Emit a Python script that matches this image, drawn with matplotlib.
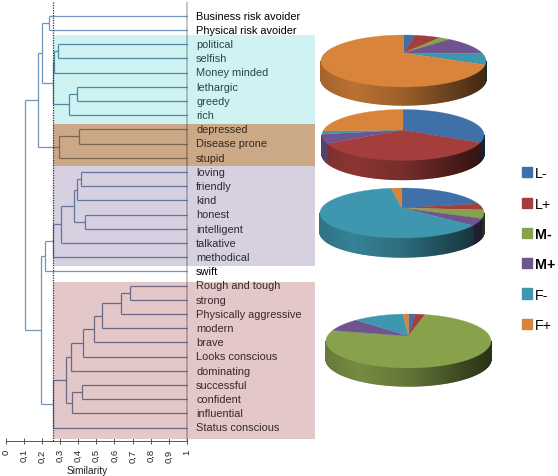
"""Similarity dendrogram of trait words with 3D style pie charts per cluster."""

import matplotlib
matplotlib.use("Agg")
import matplotlib.pyplot as plt
import numpy as np
from matplotlib.collections import LineCollection, PolyCollection
from matplotlib.colors import to_rgb
from matplotlib.patches import Patch, Rectangle


WIDTH, HEIGHT = 558, 477

LEAVES = [
    "Business risk avoider", "Physical risk avoider", "political", "selfish",
    "Money minded", "lethargic", "greedy", "rich", "depressed",
    "Disease prone", "stupid", "loving", "friendly", "kind", "honest",
    "intelligent", "talkative", "methodical", "swift", "Rough and tough",
    "strong", "Physically aggressive", "modern", "brave", "Looks conscious",
    "dominating", "successful", "confident", "influential", "Status conscious",
]

# merges, new node ids count up from len(LEAVES)
MERGE_A = [0, 2, 31, 5, 33, 32, 30, 8, 37, 36, 11, 40, 14, 41, 43, 44, 45,
           19, 47, 48, 49, 50, 51, 26, 53, 52, 55, 46, 39]
MERGE_B = [1, 3, 4, 6, 7, 34, 35, 9, 10, 38, 12, 13, 15, 42, 16, 17, 18,
           20, 21, 22, 23, 24, 25, 27, 28, 54, 29, 56, 57]
MERGE_SIM = [0.24, 0.29, 0.264, 0.395, 0.347, 0.26, 0.2, 0.406, 0.296, 0.18,
             0.417, 0.395, 0.437, 0.377, 0.307, 0.263, 0.218,
             0.687, 0.634, 0.53, 0.489, 0.428, 0.36, 0.42, 0.366, 0.334,
             0.263, 0.195, 0.106]
CUT = 0.262

SIM_TICKS = [0, 0.1, 0.2, 0.3, 0.4, 0.5, 0.6, 0.7, 0.8, 0.9, 1]
SIM_LABELS = ["0", "0,1", "0,2", "0,3", "0,4", "0,5", "0,6", "0,7", "0,8", "0,9", "1"]

# band top, band bottom in leaf rows
BAND_TOP = [1.36, 7.66, 10.58, 18.75]
BAND_BOTTOM = [7.66, 10.58, 17.65, 29.8]
BAND_FILL = ["#cff3f3", "#cba886", "#d6d0e0", "#e3c7c9"]
BAND_LINE = ["#4f8aa2", "#7d6650", "#64769e", "#6b6a86"]
BAND_TEXT = ["#2c4348", "#35291f", "#2a2a38", "#38292d"]

GROUPS = ["L-", "L+", "M-", "M+", "F-", "F+"]
GROUP_COLORS = ["#3f70a8", "#a33e3c", "#88a24c", "#6f548f", "#3e97ae", "#d8843a"]
GROUP_BOLD = [False, False, True, True, False, False]

PIE_TEAL = [2.3, 5.0, 2.1, 11.0, 7.0, 72.6]
PIE_BROWN = [30.0, 39.5, 0.0, 6.0, 2.0, 22.5]
PIE_LAVENDER = [19.0, 4.0, 5.6, 4.8, 64.5, 2.1]
PIE_PINK = [1.3, 1.9, 78.2, 7.7, 9.8, 1.1]

# centre x, centre y, radius x, radius y, depth, apex lift (pixels)
PIE_BOXES = [
    (403.5, 62, 82.5, 26, 18, 8),
    (403, 136, 81, 25.5, 19, 5),
    (402, 214, 82, 25, 19, 5),
    (408.5, 342, 82.5, 27, 18, 5),
]


def px_axes(fig, left, top, right, bottom):
    """Add an axes placed by pixel edges, measured from the top left."""
    return fig.add_axes([left / WIDTH, 1 - bottom / HEIGHT,
                         (right - left) / WIDTH, (bottom - top) / HEIGHT])


def dendrogram_segments():
    """Turn the merge lists into line segments in (similarity, row) space."""
    ys = list(range(len(LEAVES)))
    sims = [1.0] * len(LEAVES)
    segs = []
    for a, b, sim in zip(MERGE_A, MERGE_B, MERGE_SIM):
        segs.append([(sims[a], ys[a]), (sim, ys[a])])
        segs.append([(sims[b], ys[b]), (sim, ys[b])])
        segs.append([(sim, ys[a]), (sim, ys[b])])
        ys.append((ys[a] + ys[b]) / 2)
        sims.append(sim)
    return segs


def draw_dendrogram(fig):
    ax = px_axes(fig, 5.7, 3, 315, 442)
    ax.set_xlim(0, (315 - 5.7) / 181.3)
    ax.set_ylim((442 - 16.7) / 14.2, (3 - 16.7) / 14.2)
    segs = dendrogram_segments()

    ax.add_collection(LineCollection(segs, colors="#7394bb", linewidths=0.9, zorder=2))
    for top, bottom, fill, line in zip(BAND_TOP, BAND_BOTTOM, BAND_FILL, BAND_LINE):
        band = Rectangle((CUT, top), 2, bottom - top, facecolor=fill, edgecolor="none", zorder=3)
        ax.add_patch(band)
        inner = LineCollection(segs, colors=line, linewidths=0.9, zorder=4)
        ax.add_collection(inner)
        inner.set_clip_path(band)

    ax.plot([1, 1], [ax.get_ylim()[1], ax.get_ylim()[0]], color="black", alpha=0.22, lw=1.4, zorder=5)
    ax.plot([CUT, CUT], [ax.get_ylim()[1], ax.get_ylim()[0]], color="#333333", lw=0.9,
            ls=(0, (1, 1)), zorder=6)

    for i, name in enumerate(LEAVES):
        color = "black"
        for top, bottom, text_color in zip(BAND_TOP, BAND_BOTTOM, BAND_TEXT):
            if top < i < bottom:
                color = text_color
        ax.text(1.05, i, name, fontsize=7.9, color=color, va="center", ha="left", zorder=7)

    for side in ["top", "left", "right"]:
        ax.spines[side].set_visible(False)
    ax.spines["bottom"].set_bounds(0, 1)
    ax.spines["bottom"].set_color("#555555")
    ax.spines["bottom"].set_linewidth(0.7)
    ax.set_yticks([])
    ax.set_xticks(SIM_TICKS)
    ax.set_xticklabels(SIM_LABELS, rotation=90, fontsize=6.8, color="#222222")
    ax.tick_params(axis="x", direction="inout", length=4.5, width=0.7, color="#555555", pad=3)
    ax.patch.set_alpha(0)
    ax.set_xlabel("Similarity", fontsize=7.3, x=(87 - 5.7) / 309.3, labelpad=2.5, color="#222222")
    return ax


def shade(color, factor):
    return tuple(np.clip(np.array(to_rgb(color)) * factor, 0, 1))


def side_factor(t):
    """Brightness of the pie rim, t goes 0 to 1 from left to right."""
    return np.interp(t, [0, 0.2, 0.5, 0.8, 1], [0.76, 0.86, 0.72, 0.46, 0.3])


def draw_pie(ax, values, box):
    cx, cy, rx, ry, depth, lift = box
    edges = np.cumsum([0] + list(values)) / sum(values) * 2 * np.pi

    # rim first, only the front half is seen
    thetas = np.linspace(np.pi / 2, 3 * np.pi / 2, 121)
    quads, colors = [], []
    for t0, t1 in zip(thetas[:-1], thetas[1:]):
        mid = (t0 + t1) / 2
        k = np.searchsorted(edges, mid) - 1
        x0, x1 = cx + rx * np.sin(t0), cx + rx * np.sin(t1)
        y0, y1 = cy - ry * np.cos(t0), cy - ry * np.cos(t1)
        quads.append([(x0, y0), (x1, y1), (x1, y1 + depth), (x0, y0 + depth)])
        colors.append(shade(GROUP_COLORS[k], side_factor((np.sin(mid) + 1) / 2)))
    ax.add_collection(PolyCollection(quads, facecolors=colors, edgecolors=colors, linewidths=1.0))

    # top face, the apex sits a little behind the ellipse centre
    for k, color in enumerate(GROUP_COLORS):
        if values[k] == 0:
            continue
        t = np.linspace(edges[k], edges[k + 1], 90)
        xs = np.r_[cx, cx + rx * np.sin(t)]
        ys = np.r_[cy - lift, cy - ry * np.cos(t)]
        ax.fill(xs, ys, color=color, lw=0.2, zorder=3)


def main():
    plt.rcParams["font.family"] = ["Liberation Sans", "DejaVu Sans"]
    fig = plt.figure(figsize=(WIDTH / 100, HEIGHT / 100), dpi=100)
    draw_dendrogram(fig)

    ax = fig.add_axes([0, 0, 1, 1])
    ax.set_xlim(0, WIDTH)
    ax.set_ylim(HEIGHT, 0)
    ax.axis("off")
    ax.patch.set_alpha(0)
    for values, box in zip([PIE_TEAL, PIE_BROWN, PIE_LAVENDER, PIE_PINK], PIE_BOXES):
        draw_pie(ax, values, box)

    handles = [Patch(color=c, label=g) for g, c in zip(GROUPS, GROUP_COLORS)]
    legend = ax.legend(handles=handles, loc="upper left", bbox_to_anchor=(518 / WIDTH, 1 - 163 / HEIGHT),
                       frameon=False, fontsize=10.3, handlelength=0.68, handleheight=0.72,
                       labelspacing=1.14, handletextpad=0.2, borderpad=0.3, borderaxespad=0)
    for text, bold in zip(legend.get_texts(), GROUP_BOLD):
        text.set_fontweight("bold" if bold else "normal")

    fig.savefig("out.png", dpi=100)
    plt.close(fig)
    print("Saved out.png")


if __name__ == "__main__":
    main()
